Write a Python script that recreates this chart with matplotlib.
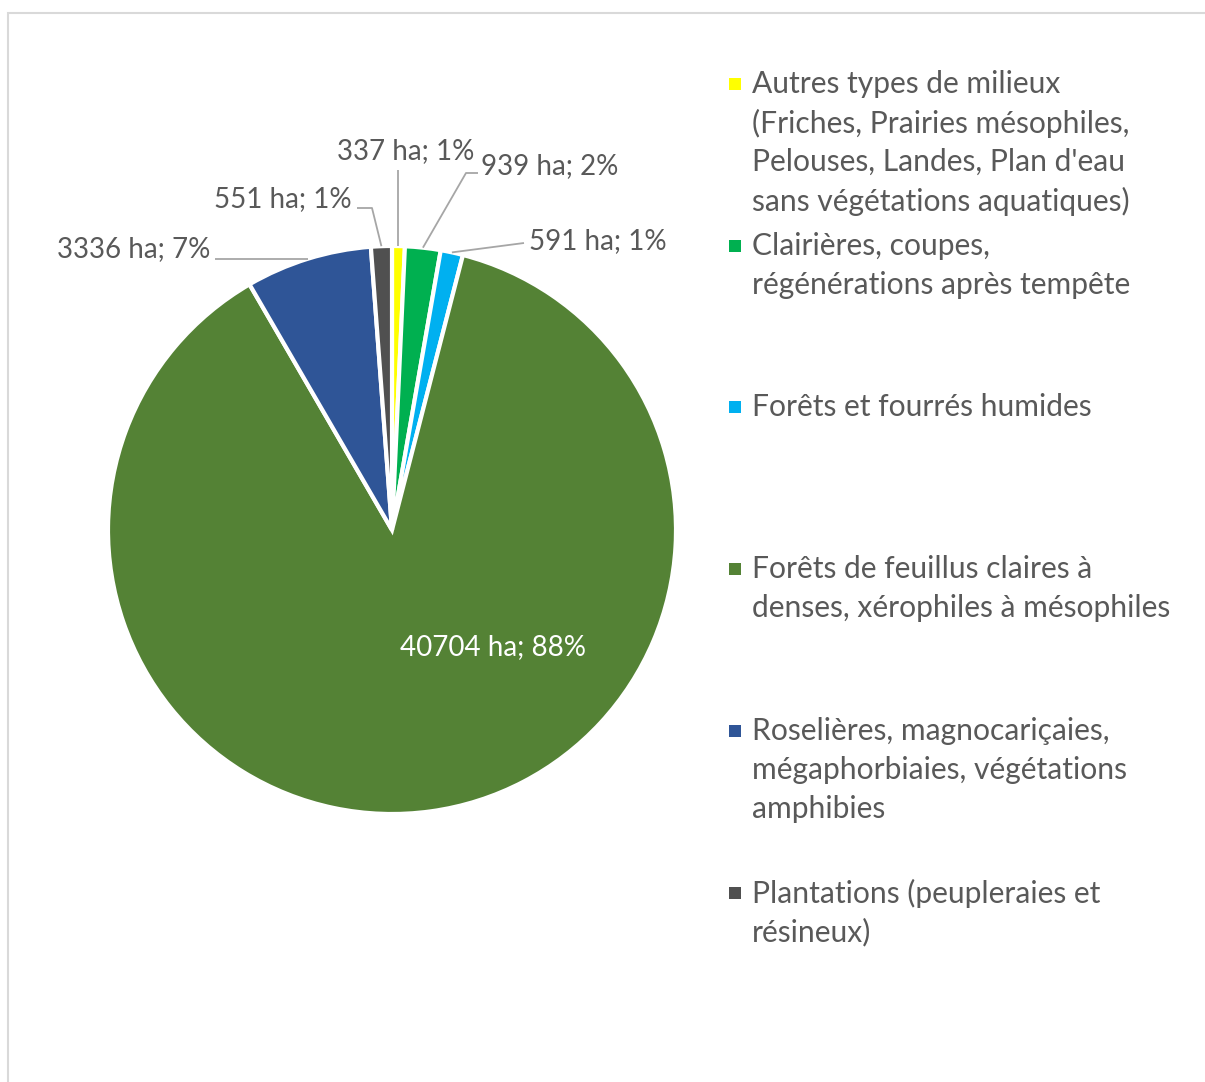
import matplotlib
matplotlib.use("Agg")
import matplotlib.pyplot as plt
from matplotlib.patches import Rectangle
import numpy as np

plt.rcParams['font.family'] = ['Lato', 'DejaVu Sans']

categories = [
    "Autres types de milieux\n(Friches, Prairies mésophiles,\nPelouses, Landes, Plan d'eau\nsans végétations aquatiques)",
    "Clairières, coupes,\nrégénérations après tempête",
    "Forêts et fourrés humides",
    "Forêts de feuillus claires à\ndenses, xérophiles à mésophiles",
    "Roselières, magnocariçaies,\nmégaphorbiaies, végétations\namphibies",
    "Plantations (peupleraies et\nrésineux)",
]
surfaces_ha = [337, 939, 591, 40704, 3336, 551]
percent_labels = ["1%", "2%", "1%", "88%", "7%", "1%"]
colors = ["#FFFF00", "#00B050", "#00B0F0", "#548235", "#2F5597", "#505050"]

W, H = 1205, 1082
TEXT = "#595959"
FS_LEGEND = 21.6
FS_LABEL = 20

fig = plt.figure(figsize=(W / 100, H / 100), dpi=100)
ax = fig.add_axes([0, 0, 1, 1])

cx, cy, r = 392, H - 530, 284
wedges, _ = ax.pie(surfaces_ha, colors=colors, startangle=90, counterclock=False,
                   center=(cx, cy), radius=r,
                   wedgeprops=dict(edgecolor="white", linewidth=3))
ax.set_xlim(0, W)
ax.set_ylim(0, H)
ax.set_aspect("equal")
ax.axis("off")

# chart frame
ax.add_patch(Rectangle((7.5, -10), W + 20, H - 13 + 10, fill=False,
                       edgecolor="#D9D9D9", linewidth=1.5, clip_on=True))

labels = [f"{v} ha; {p}" for v, p in zip(surfaces_ha, percent_labels)]

def edge_point(w):
    ang = np.deg2rad((w.theta1 + w.theta2) / 2)
    return cx + r * np.cos(ang), cy + r * np.sin(ang)

lc = "#A6A6A6"
# label anchors (pixels from top) and leader elbows
label_specs = [
    (406, 151, "center", [(399, 170)]),
    (481, 166, "left", [(466, 173), (478, 173)]),
    (529, 241, "left", [(524, 243)]),
    None,
    (210, 249, "right", [(215, 258)]),
    (352, 199, "right", [(372, 208), (357, 208)]),
]

for i, (w, lab, spec) in enumerate(zip(wedges, labels, label_specs)):
    if spec is None:
        continue
    tx, ty, ha, pts = spec
    ex, ey = edge_point(w)
    xs = [ex] + [p[0] for p in pts]
    ys = [ey] + [H - p[1] for p in pts]
    if i == 0:
        xs = [ex, ex]
        ys = [ey, H - pts[0][1]]
    if i == 4:
        ys = [ey, ey]
    ax.plot(xs, ys, color=lc, linewidth=1.3, solid_capstyle="butt")
    ax.text(tx, H - ty, lab, ha=ha, va="center", fontsize=FS_LABEL, color=TEXT)

# big slice label
ax.text(493, H - 647, labels[3], ha="center", va="center", fontsize=FS_LABEL, color="white")

# legend
legend_y = [84, 246, 407, 569, 731, 893]
line_h = 39
for cat, col, y0 in zip(categories, colors, legend_y):
    ax.add_patch(Rectangle((729, H - y0 - 6), 12, 12, facecolor=col, edgecolor="none"))
    for k, line in enumerate(cat.split("\n")):
        ax.text(752, H - (y0 + k * line_h), line, ha="left", va="center",
                fontsize=FS_LEGEND, color=TEXT)

fig.savefig("out.png", dpi=100, facecolor="white")
